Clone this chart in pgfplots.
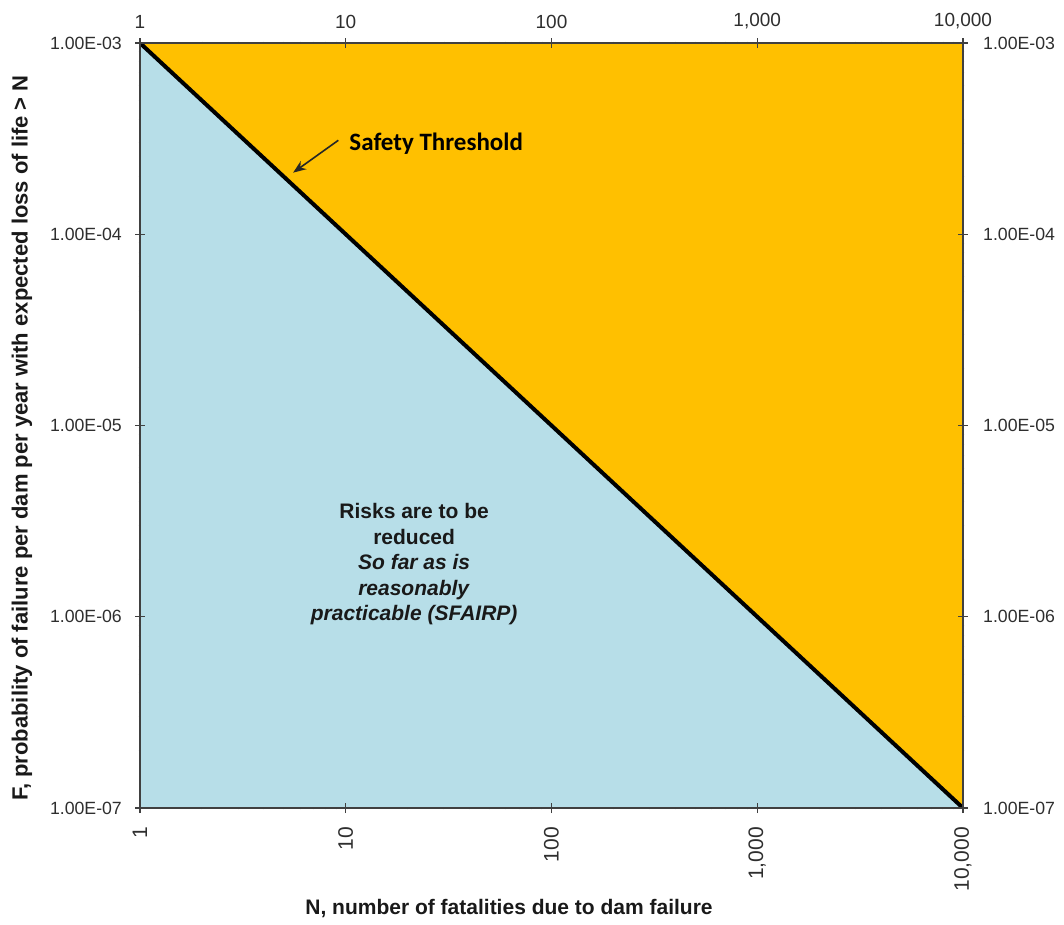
\documentclass[border=0pt]{standalone}
\usepackage{fontspec}
\setmainfont{Liberation Sans}
\newfontfamily\carlito{Carlito}
\usepackage{pgfplots}
\pgfplotsset{compat=1.18}
\usetikzlibrary{arrows.meta}
\definecolor{orangefill}{HTML}{FFC000}
\definecolor{bluefill}{HTML}{B7DEE8}
\definecolor{axgray}{HTML}{404040}
\definecolor{tickgray}{HTML}{2E2E2E}
\begin{document}
\begin{tikzpicture}[x=1pt,y=1pt]
\path[use as bounding box] (0,0) rectangle (1064,924);
\begin{axis}[
  at={(140pt,116pt)}, anchor=south west,
  scale only axis, width=823pt, height=765pt,
  xmode=log, ymode=log,
  xmin=1, xmax=10000, ymin=1e-7, ymax=1e-3,
  xtick={1,10,100,1000,10000},
  xticklabels={1,10,100,{1,000},{10,000}},
  ytick={1e-7,1e-6,1e-5,1e-4,1e-3},
  yticklabels={1.00E-07,1.00E-06,1.00E-05,1.00E-04,1.00E-03},
  minor xtick={}, minor ytick={},
  tick align=center, major tick length=10pt,
  ticklabel style={text=tickgray},
  axis on top,
  axis line style={draw=axgray, line width=1.6pt},
  tick style={draw=axgray, line width=1.2pt},
  xticklabel style={font=\fontsize{21}{24}\selectfont, rotate=90, anchor=east, inner sep=2pt, xshift=-12pt},
  yticklabel style={font=\fontsize{17.7}{20}\selectfont, anchor=east, inner sep=2pt, xshift=-11pt},
  xlabel={\bfseries N, number of fatalities due to dam failure},
  ylabel={\bfseries F, probability of failure per dam per year with expected loss of life > N},
  label style={text=black!90},
  xlabel style={font=\fontsize{21}{24}\selectfont, at={(axis description cs:0.4484,-0.1320)}, anchor=center},
  ylabel style={font=\fontsize{22}{25}\selectfont, at={(axis description cs:-0.1434,0.4837)}, anchor=center},
]
\addplot[fill=orangefill, draw=none] coordinates {(1,1e-3) (10000,1e-3) (10000,1e-7)} -- cycle;
\addplot[fill=bluefill, draw=none] coordinates {(1,1e-3) (1,1e-7) (10000,1e-7)} -- cycle;
\addplot[black, line width=4pt, line cap=round] coordinates {(1,1e-3) (10000,1e-7)};
\draw[-{Stealth[length=13pt,width=10pt]}, line width=1.6pt, black!85] (axis cs:9.2,3.1e-4) -- (axis cs:5.55,2.1e-4);
\node[anchor=west, font=\carlito\bfseries\fontsize{25}{28}\selectfont, inner sep=0pt] at (axis cs:10.4,2.98e-4) {Safety Threshold};
\node[align=center, font=\bfseries\fontsize{21}{25.5}\selectfont, text=black!90] at (axis cs:21.5,1.88e-6)
  {Risks are to be\\reduced\\\textit{So far as is}\\\textit{reasonably}\\\textit{practicable (SFAIRP)}};
\end{axis}
\begin{axis}[
  at={(140pt,116pt)}, anchor=south west,
  scale only axis, width=823pt, height=765pt,
  xmode=log, ymode=log,
  xmin=1, xmax=10000, ymin=1e-7, ymax=1e-3,
  xtick={1,10,100,1000,10000},
  xticklabels={1,10,100,{1,000},{10,000}},
  ytick={1e-7,1e-6,1e-5,1e-4,1e-3},
  yticklabels={1.00E-07,1.00E-06,1.00E-05,1.00E-04,1.00E-03},
  minor xtick={}, minor ytick={},
  ticklabel style={text=tickgray},
  axis line style={draw=none},
  tick style={draw=none},
  xticklabel pos=upper, yticklabel pos=right,
  xticklabel style={font=\fontsize{19}{22}\selectfont, anchor=south, inner sep=2pt, yshift=12pt},
  yticklabel style={font=\fontsize{17.7}{20}\selectfont, anchor=west, inner sep=2pt, xshift=18pt},
]
\addplot[draw=none] coordinates {(1,1e-7) (10000,1e-3)};
\end{axis}
\end{tikzpicture}
\end{document}
